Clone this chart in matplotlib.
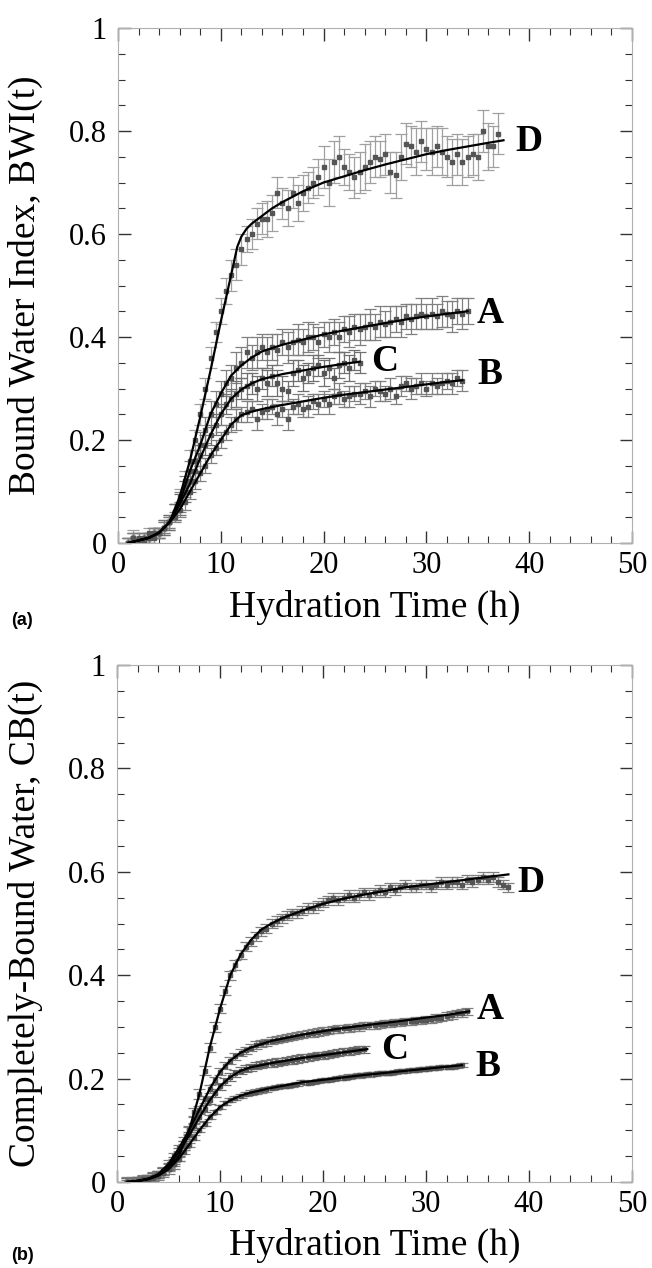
import numpy as np
import matplotlib
matplotlib.use("Agg")
import matplotlib.pyplot as plt
from matplotlib.ticker import MultipleLocator

plt.rcParams['font.family'] = ['Liberation Serif', 'DejaVu Serif']

# ---------------- panel (a): Bound Water Index ----------------
tD_a = np.arange(1, 37.5, 0.5)
D_a = [0.00, 0.01, 0.00, 0.01, 0.02, 0.01, 0.02, 0.03, 0.04, 0.06,
       0.09, 0.12, 0.16, 0.20, 0.25, 0.30, 0.36, 0.41, 0.45, 0.49,
       0.52, 0.54, 0.57, 0.59, 0.60, 0.62, 0.63, 0.63, 0.64, 0.68,
       0.66, 0.65, 0.68, 0.66, 0.68, 0.69, 0.70, 0.71, 0.73, 0.70,
       0.74, 0.75, 0.73, 0.72, 0.71, 0.72, 0.73, 0.74, 0.75, 0.745,
       0.755, 0.72, 0.715, 0.75, 0.775, 0.77, 0.76, 0.78, 0.765, 0.76,
       0.77, 0.76, 0.75, 0.74, 0.755, 0.74, 0.75, 0.755, 0.75, 0.80,
       0.77, 0.77, 0.795]
errD_a = [0.01, 0.015, 0.01, 0.01, 0.01, 0.01, 0.01, 0.01, 0.01, 0.015,
          0.015, 0.02, 0.02, 0.02, 0.02, 0.02, 0.02, 0.02, 0.025, 0.025,
          0.03, 0.03, 0.03, 0.025, 0.03, 0.03, 0.03, 0.035, 0.035, 0.03,
          0.03, 0.035, 0.03, 0.035, 0.035, 0.03, 0.03, 0.035, 0.04, 0.045,
          0.04, 0.04, 0.035, 0.035, 0.04, 0.04, 0.045, 0.04, 0.04, 0.035,
          0.04, 0.04, 0.045, 0.045, 0.04, 0.04, 0.045, 0.04, 0.04, 0.045,
          0.04, 0.045, 0.04, 0.045, 0.04, 0.045, 0.04, 0.04, 0.045, 0.04,
          0.045, 0.04, 0.04]

tA_a = np.arange(1, 34.5, 0.5)
A_a = [0.00, 0.01, 0.01, 0.00, 0.01, 0.02, 0.02, 0.03, 0.04, 0.06,
       0.08, 0.11, 0.14, 0.16, 0.19, 0.22, 0.25, 0.27, 0.29, 0.31,
       0.32, 0.34, 0.35, 0.37, 0.36, 0.37, 0.38, 0.37, 0.38, 0.375,
       0.39, 0.38, 0.39, 0.395, 0.39, 0.40, 0.40, 0.39, 0.405, 0.40,
       0.41, 0.40, 0.415, 0.41, 0.42, 0.415, 0.42, 0.425, 0.42, 0.43,
       0.425, 0.43, 0.435, 0.43, 0.44, 0.435, 0.44, 0.445, 0.44, 0.445,
       0.44, 0.45, 0.445, 0.44, 0.45, 0.445, 0.45]
errA_a = [0.01, 0.01, 0.01, 0.01, 0.01, 0.01, 0.01, 0.015, 0.015, 0.015,
          0.02, 0.02, 0.02, 0.02, 0.025, 0.025, 0.025, 0.025, 0.025, 0.025,
          0.025, 0.03, 0.03, 0.03, 0.025, 0.03, 0.025, 0.03, 0.025, 0.03,
          0.025, 0.03, 0.025, 0.03, 0.025, 0.03, 0.025, 0.03, 0.025, 0.03,
          0.025, 0.03, 0.025, 0.03, 0.025, 0.03, 0.025, 0.03, 0.025, 0.03,
          0.025, 0.03, 0.025, 0.03, 0.025, 0.03, 0.025, 0.03, 0.025, 0.03,
          0.025, 0.03, 0.025, 0.03, 0.025, 0.03, 0.025]

tC_a = np.arange(1, 24.0, 0.5)
C_a = [0.00, 0.01, 0.00, 0.01, 0.01, 0.02, 0.02, 0.03, 0.04, 0.06,
       0.075, 0.10, 0.12, 0.14, 0.17, 0.19, 0.21, 0.23, 0.25, 0.27,
       0.28, 0.29, 0.30, 0.305, 0.31, 0.30, 0.32, 0.31, 0.325, 0.31,
       0.30, 0.295, 0.33, 0.335, 0.32, 0.33, 0.34, 0.345, 0.33, 0.34,
       0.32, 0.345, 0.35, 0.34, 0.355, 0.35]
errC_a = [0.01, 0.01, 0.01, 0.01, 0.01, 0.01, 0.01, 0.015, 0.015, 0.015,
          0.02, 0.02, 0.02, 0.02, 0.02, 0.02, 0.02, 0.02, 0.02, 0.02,
          0.02, 0.025, 0.02, 0.025, 0.02, 0.025, 0.02, 0.025, 0.02, 0.025,
          0.025, 0.02, 0.025, 0.02, 0.025, 0.02, 0.025, 0.02, 0.025, 0.02,
          0.02, 0.025, 0.02, 0.025, 0.02, 0.02]

tB_a = np.arange(1, 34.0, 0.5)
B_a = [0.00, 0.01, 0.00, 0.01, 0.01, 0.02, 0.02, 0.03, 0.04, 0.05,
       0.065, 0.08, 0.10, 0.12, 0.135, 0.15, 0.17, 0.185, 0.20, 0.215,
       0.23, 0.24, 0.25, 0.255, 0.26, 0.24, 0.255, 0.26, 0.265, 0.25,
       0.26, 0.24, 0.265, 0.27, 0.26, 0.265, 0.275, 0.27, 0.28, 0.27,
       0.285, 0.29, 0.28, 0.285, 0.29, 0.29, 0.295, 0.285, 0.30, 0.295,
       0.29, 0.30, 0.285, 0.305, 0.31, 0.30, 0.305, 0.31, 0.30, 0.31,
       0.305, 0.31, 0.315, 0.31, 0.32, 0.315]
errB_a = [0.01, 0.01, 0.01, 0.01, 0.01, 0.01, 0.01, 0.01, 0.01, 0.01,
          0.015, 0.015, 0.015, 0.015, 0.015, 0.015, 0.015, 0.015, 0.015, 0.015,
          0.015, 0.02, 0.015, 0.02, 0.015, 0.02, 0.015, 0.02, 0.015, 0.02,
          0.015, 0.02, 0.015, 0.02, 0.015, 0.02, 0.015, 0.02, 0.015, 0.02,
          0.015, 0.02, 0.015, 0.02, 0.015, 0.02, 0.015, 0.02, 0.015, 0.02,
          0.015, 0.02, 0.015, 0.02, 0.015, 0.02, 0.015, 0.02, 0.015, 0.02,
          0.015, 0.02, 0.015, 0.02, 0.015, 0.02]

# fitted curves, panel (a)
fitD_a_t = [1, 2, 3, 4, 5, 6, 7, 8, 9, 10, 11, 11.6, 12, 12.5, 13, 14, 15, 16,
            18, 20, 22, 24, 26, 28, 30, 32, 34, 36, 37.5]
fitD_a_y = [0.0, 0.005, 0.01, 0.02, 0.04, 0.09, 0.16, 0.245, 0.335, 0.43, 0.52,
            0.575, 0.595, 0.61, 0.62, 0.635, 0.65, 0.662, 0.683, 0.70, 0.712,
            0.724, 0.735, 0.745, 0.755, 0.763, 0.77, 0.777, 0.782]
fitA_a_t = [1, 3, 4, 5, 6, 7, 8, 9, 10, 11, 12, 13, 14, 16, 18, 20, 22, 24, 26,
            28, 30, 32, 34]
fitA_a_y = [0.0, 0.01, 0.02, 0.04, 0.08, 0.14, 0.19, 0.25, 0.29, 0.325, 0.345,
            0.36, 0.372, 0.385, 0.395, 0.405, 0.413, 0.42, 0.427, 0.434, 0.44,
            0.445, 0.45]
fitC_a_t = [1, 3, 4, 5, 6, 7, 8, 9, 10, 11, 12, 13, 14, 16, 18, 20, 22, 23.5]
fitC_a_y = [0.0, 0.01, 0.02, 0.04, 0.075, 0.115, 0.165, 0.21, 0.25, 0.28,
            0.298, 0.31, 0.318, 0.328, 0.335, 0.342, 0.348, 0.352]
fitB_a_t = [1, 3, 4, 5, 6, 7, 8, 9, 10, 11, 12, 13, 14, 16, 18, 20, 22, 24, 26,
            28, 30, 32, 33.5]
fitB_a_y = [0.0, 0.01, 0.02, 0.04, 0.065, 0.10, 0.135, 0.17, 0.20, 0.23, 0.248,
            0.255, 0.26, 0.268, 0.275, 0.282, 0.288, 0.293, 0.298, 0.303,
            0.308, 0.313, 0.316]

# ---------------- panel (b): Completely-Bound Water ----------------
tD_b = np.arange(1, 38.5, 0.5)
D_b = [0.00, 0.00, 0.00, 0.005, 0.005, 0.01, 0.012, 0.018, 0.025, 0.035,
       0.05, 0.07, 0.10, 0.135, 0.17, 0.215, 0.26, 0.30, 0.335, 0.37,
       0.40, 0.42, 0.44, 0.455, 0.465, 0.475, 0.485, 0.49, 0.50, 0.505,
       0.51, 0.515, 0.52, 0.52, 0.525, 0.53, 0.53, 0.535, 0.54, 0.545,
       0.55, 0.545, 0.55, 0.555, 0.55, 0.555, 0.56, 0.555, 0.56, 0.565,
       0.56, 0.57, 0.565, 0.57, 0.575, 0.57, 0.57, 0.575, 0.575, 0.57,
       0.575, 0.58, 0.575, 0.58, 0.58, 0.575, 0.585, 0.58, 0.585, 0.59,
       0.585, 0.59, 0.58, 0.575, 0.57]
errD_b = 0.009

tA_b = np.arange(1, 34.5, 0.5)
A_b = [0.00, 0.00, 0.002, 0.004, 0.006, 0.01, 0.015, 0.022, 0.035, 0.05,
       0.065, 0.08, 0.10, 0.12, 0.14, 0.16, 0.18, 0.197, 0.213, 0.225,
       0.235, 0.243, 0.25, 0.255, 0.26, 0.265, 0.268, 0.27, 0.273, 0.275,
       0.277, 0.279, 0.281, 0.283, 0.285, 0.287, 0.288, 0.29, 0.292, 0.293,
       0.295, 0.296, 0.297, 0.298, 0.299, 0.30, 0.302, 0.303, 0.303, 0.305,
       0.306, 0.307, 0.308, 0.309, 0.31, 0.311, 0.312, 0.313, 0.314, 0.315,
       0.317, 0.318, 0.321, 0.323, 0.326, 0.327, 0.33]
errA_b = 0.007

tC_b = np.arange(1, 24.5, 0.5)
C_b = [0.00, 0.00, 0.002, 0.004, 0.006, 0.01, 0.014, 0.02, 0.03, 0.042,
       0.058, 0.073, 0.09, 0.108, 0.125, 0.142, 0.158, 0.172, 0.185, 0.195,
       0.203, 0.21, 0.215, 0.219, 0.222, 0.225, 0.227, 0.229, 0.23, 0.232,
       0.233, 0.235, 0.236, 0.238, 0.24, 0.241, 0.243, 0.244, 0.245, 0.247,
       0.248, 0.25, 0.252, 0.253, 0.255, 0.256, 0.257]
errC_b = 0.007

tB_b = np.arange(1, 34.0, 0.5)
B_b = [0.00, 0.00, 0.001, 0.003, 0.005, 0.007, 0.012, 0.018, 0.025, 0.034,
       0.045, 0.058, 0.072, 0.086, 0.10, 0.113, 0.125, 0.136, 0.145, 0.152,
       0.158, 0.163, 0.167, 0.17, 0.173, 0.175, 0.177, 0.179, 0.182, 0.183,
       0.185, 0.186, 0.188, 0.189, 0.193, 0.192, 0.194, 0.196, 0.197, 0.198,
       0.20, 0.201, 0.202, 0.204, 0.205, 0.206, 0.207, 0.208, 0.209, 0.21,
       0.211, 0.211, 0.213, 0.214, 0.215, 0.216, 0.216, 0.218, 0.219, 0.22,
       0.221, 0.222, 0.222, 0.223, 0.225, 0.227]
errB_b = 0.004

fitD_b_t = [1, 2, 3, 4, 5, 6, 7, 8, 8.5, 9, 10, 11, 12, 13, 14, 15, 16, 18, 20,
            22, 24, 26, 28, 30, 32, 34, 36, 38]
fitD_b_y = [0.0, 0.002, 0.006, 0.013, 0.025, 0.05, 0.10, 0.17, 0.215, 0.26,
            0.335, 0.40, 0.44, 0.468, 0.488, 0.50, 0.51, 0.525, 0.538, 0.548,
            0.556, 0.563, 0.57, 0.575, 0.58, 0.585, 0.59, 0.595]
fitA_b_t = [1, 2, 3, 4, 5, 6, 7, 8, 9, 10, 11, 12, 13, 15, 18, 21, 24, 27, 30,
            32, 34.2]
fitA_b_y = [0.0, 0.002, 0.006, 0.015, 0.035, 0.065, 0.10, 0.14, 0.18, 0.213,
            0.235, 0.25, 0.26, 0.273, 0.285, 0.295, 0.303, 0.31, 0.318, 0.323,
            0.33]
fitC_b_t = [1, 2, 3, 4, 5, 6, 7, 8, 9, 10, 11, 12, 13, 15, 18, 21, 24.3]
fitC_b_y = [0.0, 0.002, 0.006, 0.014, 0.03, 0.058, 0.09, 0.125, 0.158, 0.185,
            0.203, 0.215, 0.222, 0.23, 0.24, 0.248, 0.257]
fitB_b_t = [1, 2, 3, 4, 5, 6, 7, 8, 9, 10, 11, 12, 13, 15, 18, 21, 24, 27, 30,
            33.5]
fitB_b_y = [0.0, 0.002, 0.005, 0.012, 0.025, 0.045, 0.072, 0.10, 0.125, 0.145,
            0.158, 0.167, 0.173, 0.182, 0.193, 0.20, 0.207, 0.213, 0.219, 0.226]

# curve labels: (text, x, y)
labels_a = [("D", 40.0, 0.779), ("A", 36.2, 0.446), ("C", 25.9, 0.352),
            ("B", 36.2, 0.327)]
labels_b = [("D", 40.2, 0.58), ("A", 36.2, 0.333), ("C", 27.0, 0.257),
            ("B", 36.0, 0.224)]

W, H = 652, 1268


def style_axes(ax, ylabel, label_baseline_px):
    ax.set_xlim(0, 50)
    ax.set_ylim(0, 1)
    ax.xaxis.set_minor_locator(MultipleLocator(2))
    ax.yaxis.set_minor_locator(MultipleLocator(0.05))
    ax.set_xticks([0, 10, 20, 30, 40, 50])
    ax.set_xticklabels(["0", "10", "20", "30", "40", "50"])
    ax.set_yticks([0, 0.2, 0.4, 0.6, 0.8, 1])
    ax.set_yticklabels(["0", "0.2", "0.4", "0.6", "0.8", "1"])
    ax.tick_params(which="both", direction="in", top=True, right=True,
                   labelsize=22, color="#333333")
    ax.tick_params(which="major", length=9, width=1.0)
    ax.tick_params(axis="x", which="major", pad=6)
    ax.tick_params(axis="y", which="major", pad=8)
    ax.tick_params(which="minor", length=5, width=0.8)
    for s in ax.spines.values():
        s.set_color("#b0b0b0")
        s.set_linewidth(0.8)
    pos = ax.get_position()
    xc = (pos.x0 + pos.x1) / 2
    yc = (pos.y0 + pos.y1) / 2
    fig.text(xc, 1 - label_baseline_px / H, "Hydration Time (h)", fontsize=27,
             ha="center", va="baseline")
    fig.text(25 / W, yc, ylabel, fontsize=27, rotation=90, ha="center",
             va="center")


def draw_series(ax, t, y, err, fit_t, fit_y, ecolor):
    ax.errorbar(t, y, yerr=err, fmt="s", ms=2.5, color="#555555",
                ecolor=ecolor, elinewidth=0.9, capsize=4, capthick=0.9,
                zorder=2)
    ax.plot(fit_t, fit_y, color="black", lw=1.6, zorder=3)


fig = plt.figure(figsize=(6.52, 12.68), dpi=100)
ax1 = fig.add_axes([118 / W, 1 - 543 / H, 514 / W, 515 / H])
ax2 = fig.add_axes([117 / W, 1 - 1182 / H, 515 / W, 517 / H])

draw_series(ax1, tD_a, D_a, errD_a, fitD_a_t, fitD_a_y, "#a0a0a0")
draw_series(ax1, tA_a, A_a, errA_a, fitA_a_t, fitA_a_y, "#808080")
draw_series(ax1, tC_a, C_a, errC_a, fitC_a_t, fitC_a_y, "#707070")
draw_series(ax1, tB_a, B_a, errB_a, fitB_a_t, fitB_a_y, "#808080")
style_axes(ax1, "Bound Water Index, BWI(t)", 617)

draw_series(ax2, tD_b, D_b, errD_b, fitD_b_t, fitD_b_y, "#808080")
draw_series(ax2, tA_b, A_b, errA_b, fitA_b_t, fitA_b_y, "#808080")
draw_series(ax2, tC_b, C_b, errC_b, fitC_b_t, fitC_b_y, "#707070")
draw_series(ax2, tB_b, B_b, errB_b, fitB_b_t, fitB_b_y, "#808080")
style_axes(ax2, "Completely-Bound Water, CB(t)", 1255)

for ax, labs in ((ax1, labels_a), (ax2, labels_b)):
    for txt, x, y in labs:
        ax.text(x, y, txt, fontsize=27, fontweight="bold", ha="center",
                va="center")

fig.text(22 / W, 1 - 620 / H, "(a)", fontsize=13, fontweight="bold",
         family=["Liberation Sans", "DejaVu Sans"], ha="center", va="center")
fig.text(22 / W, 1 - 1256 / H, "(b)", fontsize=13, fontweight="bold",
         family=["Liberation Sans", "DejaVu Sans"], ha="center", va="center")

fig.savefig("out.png", dpi=100)
